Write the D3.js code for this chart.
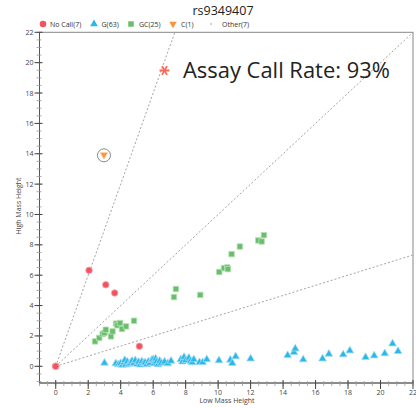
<!DOCTYPE html>
<html>
<head>
<meta charset="utf-8">
<script src="https://cdn.jsdelivr.net/npm/d3@7"></script>
<style>
  body { margin: 0; background: #fff; }
  text { font-family: "Open Sans", sans-serif; }
</style>
</head>
<body>
<svg id="chart" width="416" height="408"></svg>
<script>
// data
var title = "rs9349407";
var noCall = [[0, 0], [0, 0], [0, 0], [2.05, 6.32], [3.08, 5.37], [3.63, 4.83], [5.15, 1.32]];
var gPts = [[3.0, 0.22], [3.7, 0.18], [3.85, 0.12], [4.0, 0.2], [4.1, 0.08], [4.2, 0.25], [4.25, 0.4],
  [4.3, 0.1], [4.4, 0.3], [4.5, 0.15], [4.6, 0.22], [4.7, 0.35], [4.8, 0.2], [4.9, 0.38], [5.0, 0.15],
  [5.1, 0.28], [5.2, 0.1], [5.3, 0.32], [5.4, 0.2], [5.5, 0.25], [5.6, 0.12], [5.7, 0.3],
  [5.8, 0.22], [5.9, 0.4], [6.0, 0.45], [6.05, 0.18], [6.15, 0.5], [6.2, 0.3], [6.3, 0.12], [6.4, 0.35],
  [6.5, 0.22], [6.7, 0.3], [6.9, 0.18], [7.1, 0.35], [7.7, 0.45], [7.8, 0.3], [7.9, 0.6], [8.0, 0.4],
  [8.2, 0.55], [8.3, 0.35], [8.4, 0.25], [8.5, 0.45], [8.85, 0.26], [9.05, 0.26], [9.3, 0.45],
  [10.05, 0.38], [10.75, 0.42], [10.87, 0.2], [11.08, 0.64], [12.0, 0.5], [14.28, 0.72], [14.67, 0.92],
  [14.75, 1.16], [15.24, 0.44], [16.43, 0.5], [16.82, 0.81], [17.7, 0.77], [18.11, 1.03], [19.08, 0.59],
  [19.61, 0.7], [20.26, 0.84], [20.74, 1.49], [21.08, 0.99]];
var gcPts = [[2.42, 1.64], [2.68, 1.87], [2.89, 2.13], [3.0, 2.2], [3.08, 2.41], [3.4, 1.97], [3.5, 2.3],
  [3.71, 2.81], [3.8, 2.7], [3.96, 2.85], [4.08, 2.46], [4.33, 2.63], [4.82, 3.0], [7.28, 4.56],
  [7.4, 5.09], [8.9, 4.7], [10.07, 6.21], [10.36, 6.47], [10.56, 6.51], [10.6, 6.4], [10.83, 7.39],
  [11.34, 7.89], [12.47, 8.29], [12.68, 8.22], [12.82, 8.64]];
var cPts = [[2.97, 13.93]];
var otherPts = [[0, 0], [0, 0], [0, 0], [0, 0], [0, 0], [0, 0], [0, 0]];
var ratioLines = [3, 1, 1 / 3];
var xTicks = [0, 2, 4, 6, 8, 10, 12, 14, 16, 18, 20, 22];
var yTicks = [0, 2, 4, 6, 8, 10, 12, 14, 16, 18, 20, 22];
var callRate = "Assay Call Rate: 93%";

var svg = d3.select("#chart");

var x = d3.scaleLinear().domain([-1, 22]).range([39.5, 413]);
var y = d3.scaleLinear().domain([-1.1, 22]).range([383, 32.3]);

// title + legend
svg.append("text")
  .attr("x", 223).attr("y", 15)
  .attr("text-anchor", "middle")
  .style("font-size", "12.5px")
  .style("fill", "#222")
  .text(title);

var legend = [
  {label: "No Call(" + noCall.length + ")", sym: "circle", x: 43, tx: 50},
  {label: "G(" + gPts.length + ")", sym: "tri", x: 94, tx: 101.5},
  {label: "GC(" + gcPts.length + ")", sym: "square", x: 131, tx: 139},
  {label: "C(" + cPts.length + ")", sym: "down", x: 173, tx: 181},
  {label: "Other(" + otherPts.length + ")", sym: "dot", x: 211, tx: 222}
];

var colors = {circle: "#ef5461", tri: "#29b8e8", square: "#68be6a", down: "#f7953b", dot: "#999"};
var halos = {circle: "#f7a9ae", tri: "#a5dcf2", square: "#b8dfb8", down: "#fbc99b", dot: "#ccc"};

function symPath(sym) {
  if (sym === "circle") return d3.symbol(d3.symbolCircle, 34)();
  if (sym === "tri") return d3.symbol(d3.symbolTriangle, 26)();
  if (sym === "square") return d3.symbol(d3.symbolSquare, 30)();
  if (sym === "down") return d3.symbol(d3.symbolTriangle, 24)();
  return d3.symbol(d3.symbolCircle, 2)();
}

legend.forEach(function(l) {
  var tr = "translate(" + l.x + ",24)" + (l.sym === "down" ? " rotate(180)" : "");
  svg.append("path")
    .attr("d", symPath(l.sym))
    .attr("transform", tr)
    .attr("fill", colors[l.sym]);
  svg.append("text")
    .attr("x", l.tx).attr("y", 26.5)
    .style("font-size", "7px")
    .style("fill", "#333")
    .text(l.label);
});

// frame
svg.append("rect")
  .attr("x", x(-1)).attr("y", y(22))
  .attr("width", x(22) - x(-1)).attr("height", y(-1.1) - y(22))
  .attr("fill", "none")
  .attr("stroke", "#888")
  .attr("stroke-width", 1);

// ratio lines from origin
ratioLines.forEach(function(r) {
  var xe = r >= 1 ? 22 / r : 22;
  var ye = r >= 1 ? 22 : 22 * r;
  svg.append("line")
    .attr("x1", x(0)).attr("y1", y(0))
    .attr("x2", x(xe)).attr("y2", y(ye))
    .attr("stroke", "#999")
    .attr("stroke-width", 0.9)
    .attr("stroke-dasharray", "2,2");
});

// axes
var axisColor = "#555";
var xAxis = svg.append("g").attr("transform", "translate(0," + y(-1.1) + ")");
xAxis.append("line").attr("x1", x(-1)).attr("x2", x(22)).attr("stroke", axisColor);
xAxis.selectAll(".minor").data(d3.range(-1, 22.01, 0.5)).enter().append("line")
  .attr("x1", d => x(d)).attr("x2", d => x(d))
  .attr("y1", -2).attr("y2", 3)
  .attr("stroke", "#999").attr("stroke-width", 0.8);
xAxis.selectAll(".major").data(xTicks).enter().append("line")
  .attr("x1", d => x(d)).attr("x2", d => x(d))
  .attr("y1", -3).attr("y2", 6)
  .attr("stroke", "#444").attr("stroke-width", 1);
xAxis.selectAll(".lab").data(xTicks).enter().append("text")
  .attr("x", d => x(d)).attr("y", 12)
  .attr("text-anchor", "middle")
  .style("font-size", "7px").style("fill", "#444")
  .text(d => d);

var yAxis = svg.append("g").attr("transform", "translate(" + x(-1) + ",0)");
yAxis.append("line").attr("y1", y(-1.1)).attr("y2", y(22)).attr("stroke", axisColor);
yAxis.selectAll(".minor").data(d3.range(-1, 22.01, 0.5)).enter().append("line")
  .attr("y1", d => y(d)).attr("y2", d => y(d))
  .attr("x1", -3).attr("x2", 2)
  .attr("stroke", "#999").attr("stroke-width", 0.8);
yAxis.selectAll(".major").data(yTicks).enter().append("line")
  .attr("y1", d => y(d)).attr("y2", d => y(d))
  .attr("x1", -5).attr("x2", 3)
  .attr("stroke", "#444").attr("stroke-width", 1);
yAxis.selectAll(".lab").data(yTicks).enter().append("text")
  .attr("x", -6).attr("y", d => y(d) + 2.5)
  .attr("text-anchor", "end")
  .style("font-size", "7px").style("fill", "#444")
  .text(d => d);

svg.append("text")
  .attr("x", 227).attr("y", 403)
  .attr("text-anchor", "middle")
  .style("font-size", "7px").style("fill", "#444")
  .text("Low Mass Height");
svg.append("text")
  .attr("transform", "translate(21,206) rotate(-90)")
  .attr("text-anchor", "middle")
  .style("font-size", "7px").style("fill", "#444")
  .text("High Mass Height");

// points
function drawPts(data, sym) {
  svg.append("g").selectAll("path").data(data).enter().append("path")
    .attr("d", symPath(sym))
    .attr("transform", function(d) {
      return "translate(" + x(d[0]) + "," + y(d[1]) + ")" + (sym === "down" ? " rotate(180)" : "");
    })
    .attr("fill", colors[sym])
    .attr("stroke", halos[sym])
    .attr("stroke-width", sym === "dot" ? 0 : 0.8);
}
drawPts(otherPts, "dot");
drawPts(gPts, "tri");
drawPts(gcPts, "square");
drawPts(noCall, "circle");
drawPts(cPts, "down");

// ring round the C call
svg.append("circle")
  .attr("cx", x(cPts[0][0])).attr("cy", y(cPts[0][1]) + 0.5)
  .attr("r", 6.5)
  .attr("fill", "none")
  .attr("stroke", "#888")
  .attr("stroke-width", 1);

// call rate note
svg.append("path")
  .attr("d", d3.symbol(d3.symbolAsterisk, 70)())
  .attr("transform", "translate(164.5,70.5) rotate(90)")
  .attr("fill", "none")
  .attr("stroke", "#f26b5b")
  .attr("stroke-width", 1.8);
var note = svg.append("text")
  .attr("x", 183).attr("y", 77.5)
  .style("font-size", "22px")
  .style("fill", "#222")
  .text(callRate);
var w = note.node().getComputedTextLength();
note.style("font-size", (22 * 207 / w) + "px");
</script>
</body>
</html>
